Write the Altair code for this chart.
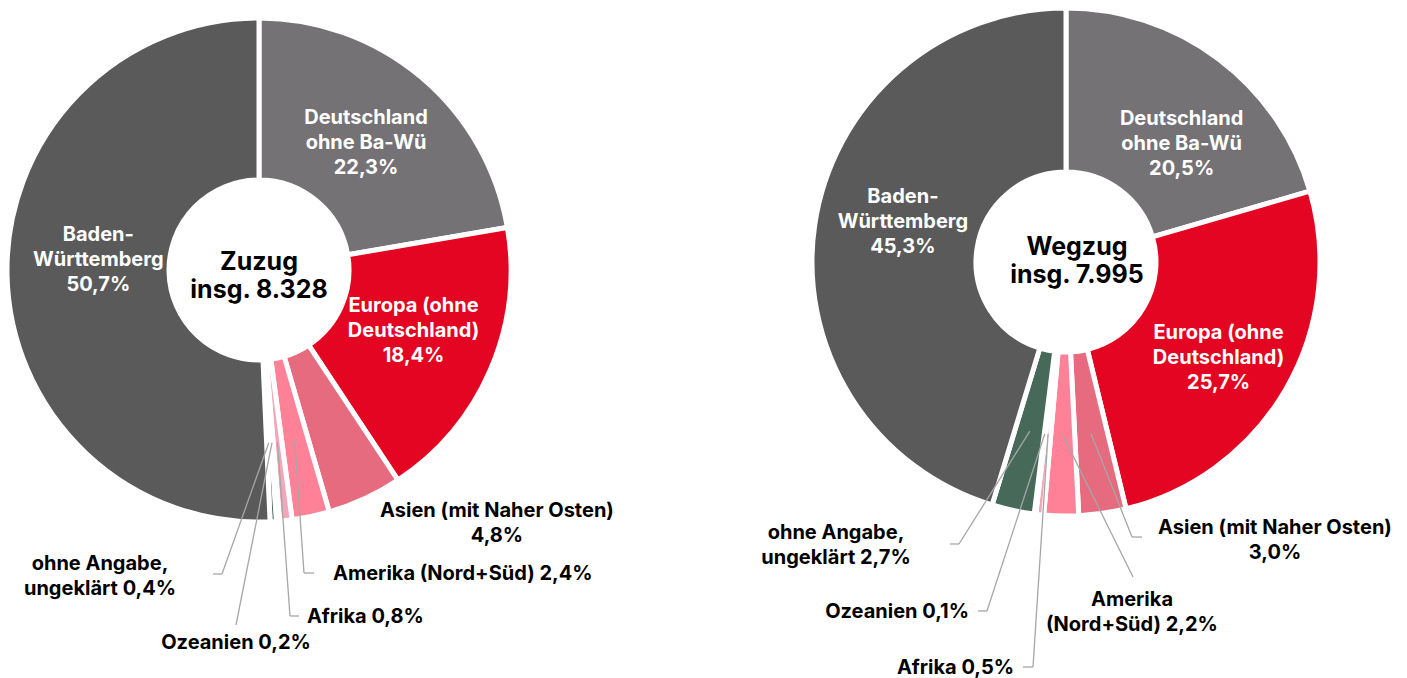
import math
import altair as alt
import pandas as pd

# ---------------- data ----------------
categories = [
    "Deutschland ohne Ba-Wü",
    "Europa (ohne Deutschland)",
    "Asien (mit Naher Osten)",
    "Amerika (Nord+Süd)",
    "Afrika",
    "Ozeanien",
    "ohne Angabe, ungeklärt",
    "Baden-Württemberg",
]
zuzug_pct = [22.3, 18.4, 4.8, 2.4, 0.8, 0.2, 0.4, 50.7]
wegzug_pct = [20.5, 25.7, 3.0, 2.2, 0.5, 0.1, 2.7, 45.3]
slice_colors = ["#757276", "#E30521", "#E66B7F", "#FF8198", "#F3A6B8",
                "#B9C9C0", "#46695A", "#5A5A5A"]
titles = ["Zuzug", "Wegzug"]
totals = ["8.328", "7.995"]

zuzug_label_text = [
    "Deutschland\nohne Ba-Wü\n{p}",
    "Europa (ohne\nDeutschland)\n{p}",
    "Asien (mit Naher Osten)\n{p}",
    "Amerika (Nord+Süd)  {p}",
    "Afrika {p}",
    "Ozeanien {p}",
    "ohne Angabe,\nungeklärt {p}",
    "Baden-\nWürttemberg\n{p}",
]
wegzug_label_text = [
    "Deutschland\nohne Ba-Wü\n{p}",
    "Europa (ohne\nDeutschland)\n{p}",
    "Asien (mit Naher Osten)\n{p}",
    "Amerika\n(Nord+Süd)  {p}",
    "Afrika {p}",
    "Ozeanien {p}",
    "ohne Angabe,\nungeklärt {p}",
    "Baden-\nWürttemberg\n{p}",
]

# ---------------- layout (page pixels) ----------------
M = 8  # page margin
W, H = 1391, 670
FONT = "Inter"
LABEL_FS, LABEL_LH = 20, 25
TITLE_FS, TITLE_LH = 25, 28

donuts = [
    dict(cx=259, cy=270, r=252, ri=90, title_x=259, title_y=276),
    dict(cx=1066, cy=262, r=254, ri=90, title_x=1077, title_y=261),
]

# inner labels: ("in", radius, angle shift deg)
# outer labels: ("out", x, y, align, elbow or None, end or None)
label_layout = [
    [
        ("in", 166, 0),
        ("in", 166, -2),
        ("out", 497, 523, "center", None, None),
        ("out", 333, 574, "left", (304, 573), (314, 573)),
        ("out", 307, 617, "left", (290, 616), (299, 616)),
        ("out", 236, 643, "center", None, (236, 625)),
        ("out", 100, 576, "center", (222, 574), (213, 574)),
        ("in", 161, 4.9),
    ],
    [
        ("in", 165, 7.6),
        ("in", 180, 2),
        ("out", 1275, 540, "center", (1132, 537), (1142, 537)),
        ("out", 1132, 612, "center", None, (1133, 577)),
        ("out", 1014, 668, "right", (1033, 667), (1023, 667)),
        ("out", 969, 612, "right", (987, 611), (978, 611)),
        ("out", 836, 545, "center", (959, 544), (950, 544)),
        ("in", 168, 5.4),
    ],
]
LEADER_R = 173


def fmt(v):
    return f"{v:.1f}".replace(".", ",") + "%"


def block_top(y, text, lh):
    # Vega places the first line at the anchor; shift so the block is centred
    n = text.count("\n") + 1
    return y - (n - 1) * lh / 2


color_scale = alt.Scale(domain=categories, range=slice_colors)

layers = []
label_rows = []
seg_rows = []
title_rows = []

for k, (vals, texts) in enumerate([(zuzug_pct, zuzug_label_text),
                                   (wegzug_pct, wegzug_label_text)]):
    d = donuts[k]
    df = pd.DataFrame({"category": categories, "value": vals,
                       "idx": list(range(len(categories)))})
    arc = alt.Chart(df).mark_arc(
        outerRadius=d["r"], innerRadius=d["ri"], stroke="white", strokeWidth=5
    ).encode(
        theta=alt.Theta("value:Q", stack=True),
        color=alt.Color("category:N", scale=color_scale, legend=None),
        order=alt.Order("idx:Q"),
        x=alt.value(d["cx"] - M),
        y=alt.value(d["cy"] - M),
    )
    layers.append(arc)

    total = sum(vals)
    cum = 0.0
    for i, v in enumerate(vals):
        mid = (cum + v / 2) / total * 360.0
        cum += v
        txt = texts[i].format(p=fmt(v))
        lay = label_layout[k][i]
        if lay[0] == "in":
            a = math.radians(mid + lay[2])
            x = d["cx"] + lay[1] * math.sin(a)
            y = d["cy"] - lay[1] * math.cos(a)
            label_rows.append(dict(x=x - M, y=block_top(y, txt, LABEL_LH) - M,
                                   text=txt, kind="in"))
        else:
            _, lx, ly, align, elbow, end = lay
            label_rows.append(dict(x=lx - M, y=block_top(ly, txt, LABEL_LH) - M,
                                   text=txt, kind=align))
            if end is not None:
                a = math.radians(mid)
                sx = d["cx"] + LEADER_R * math.sin(a)
                sy = d["cy"] - LEADER_R * math.cos(a)
                pts = [(sx, sy)] + ([elbow] if elbow else []) + [end]
                for (x1, y1), (x2, y2) in zip(pts[:-1], pts[1:]):
                    seg_rows.append(dict(x=x1 - M, y=y1 - M, x2=x2 - M, y2=y2 - M))
    ttxt = f"{titles[k]}\ninsg. {totals[k]}"
    title_rows.append(dict(x=d["title_x"] - M,
                           y=block_top(d["title_y"], ttxt, TITLE_LH) - M,
                           text=ttxt))

labels = pd.DataFrame(label_rows)
segs = pd.DataFrame(seg_rows)
tdf = pd.DataFrame(title_rows)

lines = alt.Chart(segs).mark_rule(color="#A6A6A6", strokeWidth=1.3).encode(
    x=alt.X("x:Q", scale=None), y=alt.Y("y:Q", scale=None),
    x2="x2:Q", y2="y2:Q",
)
layers.append(lines)

for kind, align, col in [("in", "center", "white"), ("center", "center", "black"),
                         ("left", "left", "black"), ("right", "right", "black")]:
    sub = labels[labels["kind"] == kind]
    layers.append(
        alt.Chart(sub).mark_text(
            font=FONT, fontSize=LABEL_FS, fontWeight="bold", color=col, align=align,
            baseline="middle", lineBreak="\n", lineHeight=LABEL_LH,
        ).encode(
            x=alt.X("x:Q", scale=None), y=alt.Y("y:Q", scale=None), text="text:N"
        )
    )

layers.append(
    alt.Chart(tdf).mark_text(
        font=FONT, fontSize=TITLE_FS, fontWeight="bold", color="black", align="center",
        baseline="middle", lineBreak="\n", lineHeight=TITLE_LH,
    ).encode(x=alt.X("x:Q", scale=None), y=alt.Y("y:Q", scale=None), text="text:N")
)

chart = alt.layer(*layers).properties(
    width=W, height=H, padding=0, autosize="none"
).configure_view(stroke=None)

chart.save("out.html", embed_options={"renderer": "svg", "actions": False})
